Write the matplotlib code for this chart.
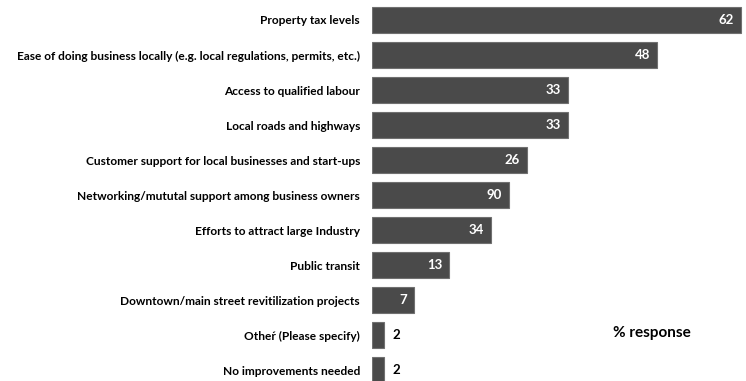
import matplotlib.pyplot as plt

categories = [
    "Property tax levels",
    "Ease of doing business locally (e.g. local regulations, permits, etc.)",
    "Access to qualified labour",
    "Local roads and highways",
    "Customer support for local businesses and start-ups",
    "Networking/mututal support among business owners",
    "Efforts to attract large Industry",
    "Public transit",
    "Downtown/main street revitilization projects",
    "Other\u0301 (Please specify)",
    "No improvements needed",
]
# bar lengths
values = [62, 48, 33, 33, 26, 23, 20, 13, 7, 2, 2]
# value labels as printed in the picture
value_labels = ["62", "48", "33", "33", "26", "90", "34", "13", "7", "2", "2"]

plt.rcParams['font.family'] = ['Lato', 'DejaVu Sans']

fig = plt.figure(figsize=(7.46, 3.81), dpi=100)
ax = fig.add_axes([372 / 746, 0, 374 / 746, 1])

ypos = list(range(len(categories)))
bars = ax.barh(ypos, values, height=0.74, color='#4a4a4a', edgecolor='#707070', linewidth=0.8)

for b, v, lab in zip(bars, values, value_labels):
    y = b.get_y() + b.get_height() / 2
    if v > 4:
        ax.annotate(lab, (v, y), xytext=(-5, 0), textcoords='offset points',
                    ha='right', va='center', color='white', fontsize=9.5, fontweight='bold')
    else:
        ax.annotate(lab, (v, y), xytext=(6.5, 0), textcoords='offset points',
                    ha='left', va='center', color='black', fontsize=9.5, fontweight='bold')

ax.set_xlim(0, 62.9)
ax.set_ylim(10.31, -0.571)
ax.set_yticks(ypos)
ax.set_yticklabels(categories, fontsize=8.6, fontweight='bold')
ax.tick_params(axis='y', length=0, pad=8.6)
ax.set_xticks([])
for s in ax.spines.values():
    s.set_visible(False)

ax.text(0.645, 0.125, "% response", transform=ax.transAxes, fontsize=11,
        fontweight='bold', ha='left', va='center')

fig.savefig('out.png', dpi=100)
